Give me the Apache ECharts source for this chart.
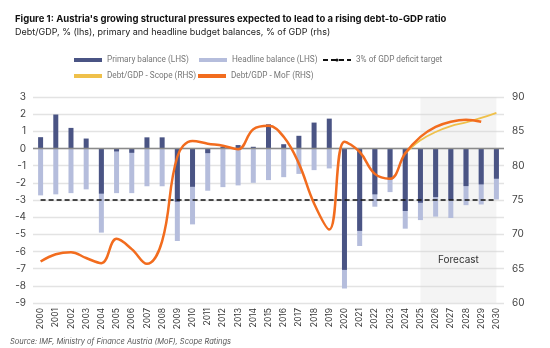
<!DOCTYPE html>
<html>
<head>
<meta charset="utf-8">
<script src="https://cdn.jsdelivr.net/npm/echarts@6/dist/echarts.min.js"></script>
<style>
html,body{margin:0;padding:0;background:#fff;}
#c{width:550px;height:348px;}
</style>
</head>
<body>
<div id="c"></div>
<script>
const years = ['2000','2001','2002','2003','2004','2005','2006','2007','2008','2009','2010','2011','2012','2013','2014','2015','2016','2017','2018','2019','2020','2021','2022','2023','2024','2025','2026','2027','2028','2029','2030'];
const primaryBalance = [0.66,1.98,1.2,0.58,-2.63,-0.17,-0.25,0.65,0.65,-3.1,-2.23,-0.27,0.1,0.2,0.1,1.41,0.25,0.74,1.51,1.74,-7.07,-4.8,-2.67,-1.8,-3.64,-3.16,-2.83,-3.0,-2.19,-2.09,-1.76];
const headlineBalance = [-2.73,-2.67,-2.6,-2.38,-4.9,-2.6,-2.6,-2.2,-2.2,-5.39,-4.42,-2.46,-2.25,-2.15,-2.0,-1.84,-1.67,-1.48,-1.26,-1.16,-8.16,-5.68,-3.39,-2.54,-4.67,-4.17,-3.97,-4.05,-3.3,-3.26,-2.97];
const deficitTarget = [-3,-3,-3,-3,-3,-3,-3,-3,-3,-3,-3,-3,-3,-3,-3,-3,-3,-3,-3,-3,-3,-3,-3,-3,-3,-3,-3,-3,-3,-3,-3];
const debtScope = [null,null,null,null,null,null,null,null,null,null,null,null,null,null,null,null,null,null,null,null,null,null,null,null,81.8,83.7,84.9,85.75,86.3,86.95,87.7];
const debtMoF = [66.05,67.1,67.4,66.55,65.8,69.35,67.85,65.7,69.0,81.3,83.6,83.2,82.9,82.4,85.3,85.8,84.2,80.3,74.5,70.7,83.5,82.0,78.8,78.1,81.8,84.2,85.65,86.4,86.7,86.4,null];
const forecastStart = '2025', forecastEnd = '2030';

const FONT = 'Inter, "Noto Sans", sans-serif';
const legendText = {fontFamily:'Roboto, sans-serif', fontSize:8.2, color:'#777'};
function lg(left, top, item){
  return {left:left, top:top, padding:0, itemWidth:28, itemHeight:4, itemGap:0, textStyle:legendText, data:[item]};
}
const chart = echarts.init(document.getElementById('c'), null, {renderer:'canvas'});
chart.setOption({
  backgroundColor:'#fff',
  animation:false,
  textStyle:{fontFamily:FONT},
  title:{
    left:10, top:9,
    text:"Figure 1: Austria's growing structural pressures expected to lead to a rising debt-to-GDP ratio",
    subtext:'Debt/GDP, % (lhs), primary and headline budget balances, % of GDP (rhs)',
    itemGap:4,
    textStyle:{fontFamily:FONT, fontSize:9.5, fontWeight:'bold', color:'#111'},
    subtextStyle:{fontFamily:FONT, fontSize:9, color:'#222'}
  },
  legend:[
    lg(74, 56, {name:'Primary balance (LHS)', icon:'rect'}),
    lg(199, 56, {name:'Headline balance (LHS)', icon:'rect'}),
    lg(322, 56, {name:'3% of GDP deficit target'}),
    lg(74, 72, {name:'Debt/GDP - Scope (RHS)', icon:'rect'}),
    lg(198, 72, {name:'Debt/GDP - MoF (RHS)', icon:'rect'})
  ],
  grid:{left:33, right:46, top:97, bottom:45, containLabel:false},
  xAxis:{
    type:'category', data:years, boundaryGap:true,
    axisLine:{show:false}, axisTick:{show:false},
    axisLabel:{rotate:90, fontSize:8.5, color:'#333', margin:5, interval:0, fontFamily:FONT}
  },
  yAxis:[
    {type:'value', min:-9, max:3, interval:1,
     axisLine:{show:false}, axisTick:{show:false},
     axisLabel:{fontSize:10, color:'#444', margin:7, fontFamily:FONT},
     splitLine:{lineStyle:{color:'#e3e3e3', width:1.3}}},
    {type:'value', min:60, max:90, interval:5, position:'right',
     axisLine:{show:false}, axisTick:{show:false},
     axisLabel:{fontSize:10, color:'#444', margin:8, fontFamily:FONT},
     splitLine:{show:false}}
  ],
  series:[
    {name:'Headline balance (LHS)', type:'bar', data:headlineBalance, barWidth:5, barGap:'-100%',
     itemStyle:{color:'#b5bddc'}, z:2},
    {name:'Primary balance (LHS)', type:'bar', data:primaryBalance, barWidth:5, barGap:'-100%',
     itemStyle:{color:'#4a5484'}, z:3,
     markLine:{silent:true, symbol:'none', label:{show:false},
       lineStyle:{color:'#8a8a8a', width:1.3, type:'solid'}, data:[{yAxis:0}]}},
    {name:'3% of GDP deficit target', type:'line', data:deficitTarget, symbol:'none',
     lineStyle:{color:'#111', width:1.5, type:[5,3]}, itemStyle:{color:'#111'}, z:4},
    {name:'Debt/GDP - Scope (RHS)', type:'line', yAxisIndex:1, data:debtScope, symbol:'none', smooth:0.4,
     lineStyle:{color:'#efc04a', width:1.8}, itemStyle:{color:'#efc04a'}, z:5},
    {name:'Debt/GDP - MoF (RHS)', type:'line', yAxisIndex:1, data:debtMoF, symbol:'none', smooth:0.4,
     lineStyle:{color:'#f26c1e', width:2.5}, itemStyle:{color:'#f26c1e'}, z:6},
    {name:'forecast', type:'line', data:[], z:10, silent:true,
     markArea:{silent:true,
       itemStyle:{color:'rgba(212,212,212,0.26)'},
       label:{show:true, position:'insideBottom', distance:38, color:'#333', fontSize:10, fontFamily:FONT},
       data:[[{name:'Forecast', xAxis:forecastStart, yAxis:-9},{xAxis:forecastEnd, yAxis:3}]]}}
  ],
  graphic:[
    {type:'text', left:10, top:338,
     style:{text:'Source: IMF, Ministry of Finance Austria (MoF), Scope Ratings', fill:'#555',
       font:'italic 7.5px '+FONT}}
  ]
});
</script>
</body>
</html>
